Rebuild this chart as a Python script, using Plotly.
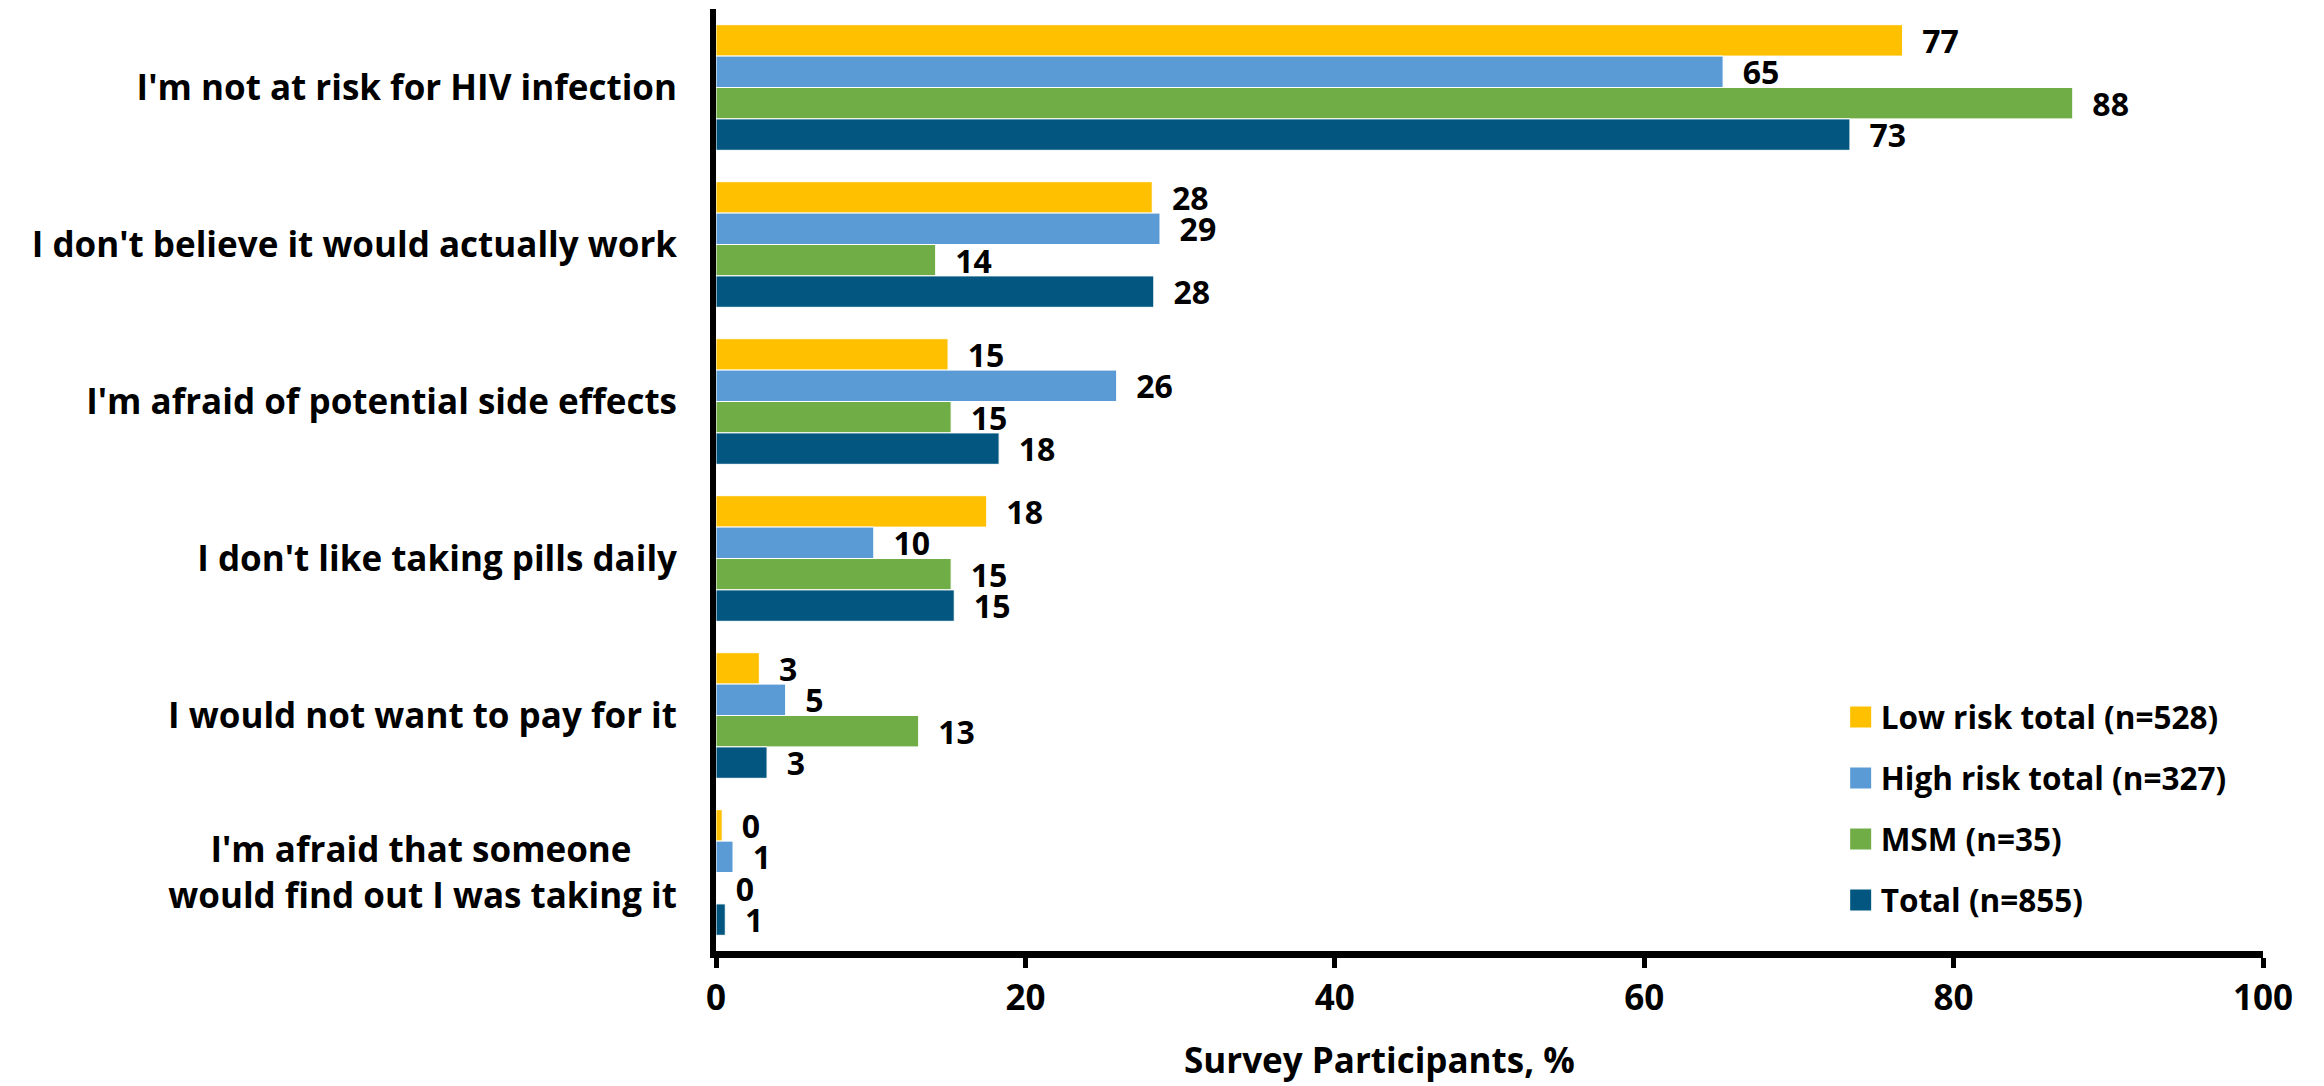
import plotly.graph_objects as go

NB = "\u00a0"

categories = [
    "I'm not at risk for HIV infection",
    "I don't believe it would actually work",
    "I'm afraid of potential side effects",
    "I don't like taking pills daily",
    "I would not want to pay for it",
    "I'm afraid that someone" + NB * 5 + "<br>would find out I was taking it",
]

series_names = [
    "Low risk total (n=528)",
    "High risk total (n=327)",
    "MSM (n=35)",
    "Total (n=855)",
]

low_risk = [76.7, 28.2, 15.0, 17.5, 2.8, 0.4]
high_risk = [65.1, 28.7, 25.9, 10.2, 4.5, 1.1]
msm = [87.7, 14.2, 15.2, 15.2, 13.1, 0.0]
total = [73.3, 28.3, 18.3, 15.4, 3.3, 0.6]

low_risk_labels = ["77", "28", "15", "18", "3", "0"]
high_risk_labels = ["65", "29", "26", "10", "5", "1"]
msm_labels = ["88", "14", "15", "15", "13", "0"]
total_labels = ["73", "28", "18", "15", "3", "1"]

colors = ["#FFC000", "#5B9BD5", "#70AD47", "#03567F"]

x_ticks = [0, 20, 40, 60, 80, 100]
x_title = "Survey Participants, %"

FONT = "Open Sans"

series_values = [low_risk, high_risk, msm, total]
series_labels = [low_risk_labels, high_risk_labels, msm_labels, total_labels]

fig = go.Figure()
for name, vals, labs, col in zip(series_names, series_values, series_labels, colors):
    fig.add_trace(go.Bar(
        x=vals, y=categories, orientation="h", name=name,
        marker=dict(color=col, line=dict(color="white", width=1)),
        text=labs, texttemplate=NB + NB + "%{text}", textposition="outside",
        textfont=dict(family=FONT, size=32, color="black", weight=700),
        constraintext="none", cliponaxis=False,
        showlegend=False, legendgroup=name, hoverinfo="skip",
    ))

for name, col in zip(series_names, colors):
    fig.add_trace(go.Scatter(
        x=[None], y=[None], mode="markers", name=name, legendgroup=name,
        marker=dict(symbol="square", size=16, color=col, line=dict(color=col, width=5)),
        showlegend=True,
    ))

fig.update_layout(
    width=2324, height=1086,
    margin=dict(l=716, r=61, t=9, b=135),
    paper_bgcolor="white", plot_bgcolor="white",
    barmode="group", bargap=0.2, bargroupgap=0,
    font=dict(family=FONT, color="black", weight=700),
    legend=dict(
        x=0.727, y=0.277, xanchor="left", yanchor="top",
        font=dict(family=FONT, size=31.5, color="black", weight=700),
        tracegroupgap=17, bgcolor="rgba(0,0,0,0)", itemsizing="trace",
        traceorder="grouped",
    ),
    xaxis=dict(
        range=[0, 100], tickvals=x_ticks, ticktext=[str(v) for v in x_ticks],
        showline=True, linewidth=7, linecolor="black",
        ticks="outside", ticklen=10, tickwidth=5, tickcolor="black",
        showgrid=False, zeroline=False,
        tickfont=dict(family=FONT, size=35, color="black", weight=700),
    ),
    yaxis=dict(
        autorange="reversed", type="category",
        showline=True, linewidth=6, linecolor="black",
        ticks="", showgrid=False, zeroline=False,
        tickfont=dict(family=FONT, size=35, color="black", weight=700),
        ticklabelstandoff=26,
    ),
    annotations=[dict(
        text=x_title, xref="paper", yref="paper", x=0.429, y=-0.115,
        xanchor="center", yanchor="middle", showarrow=False,
        font=dict(family=FONT, size=35, color="black", weight=700),
    )],
)

fig.write_html("out.html")
